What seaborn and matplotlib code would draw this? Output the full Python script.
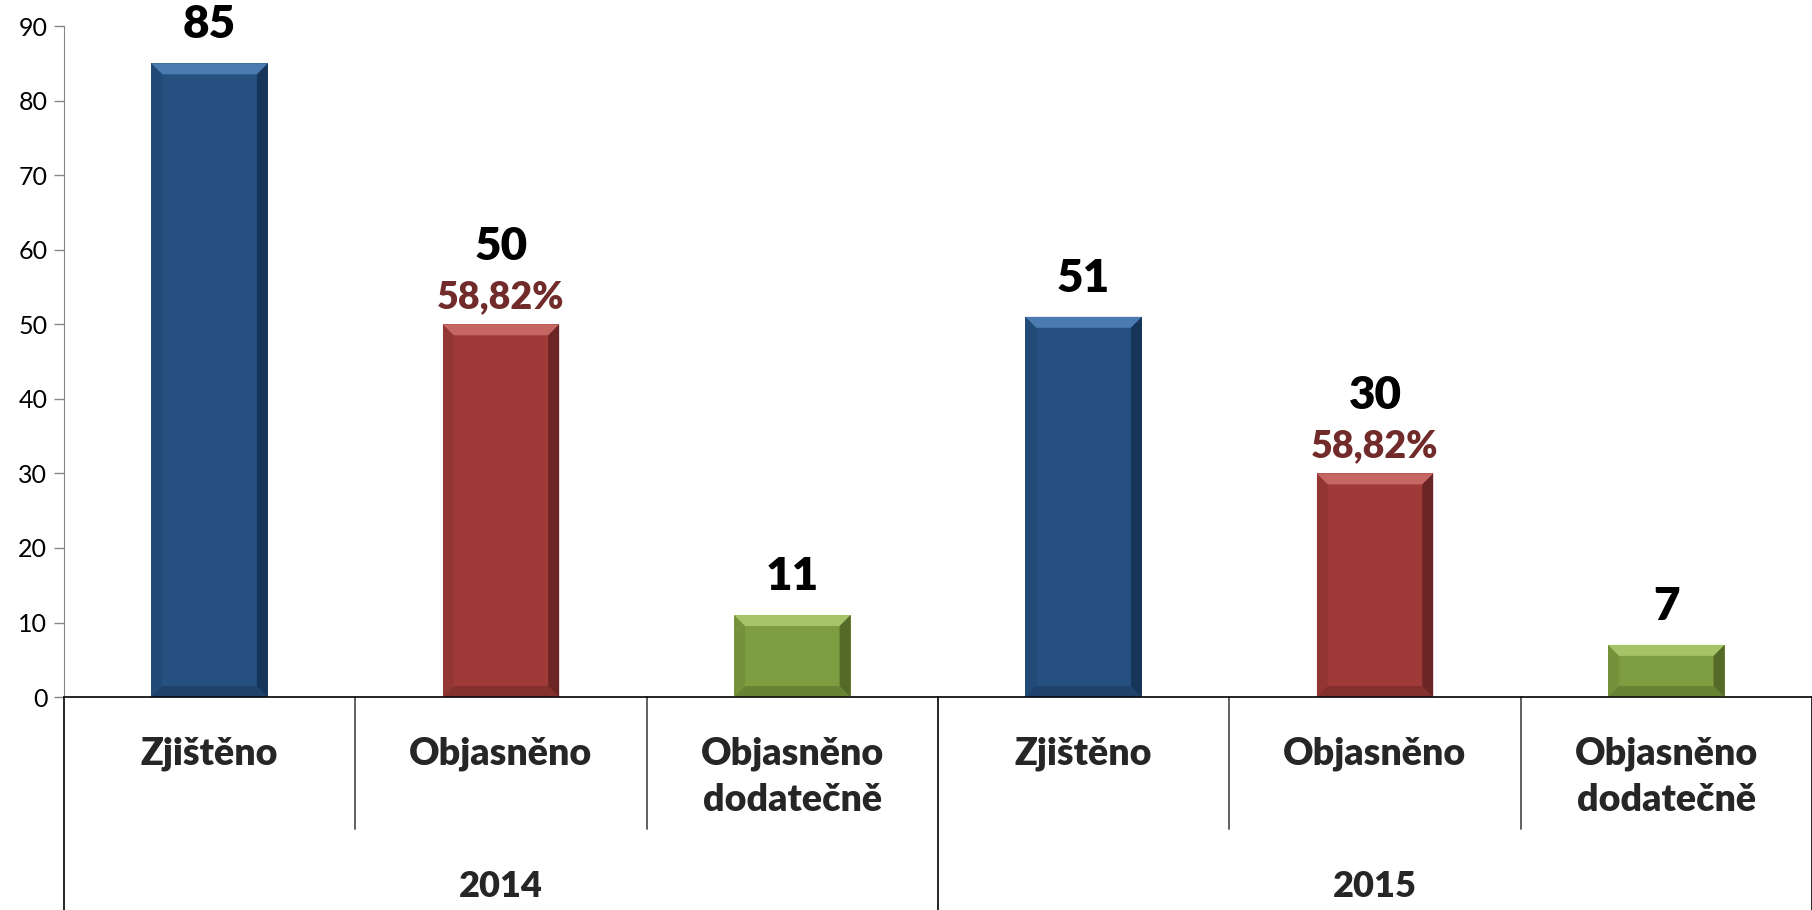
import pandas as pd
import numpy as np
import matplotlib
matplotlib.use("Agg")
import matplotlib.pyplot as plt
import seaborn as sns
from matplotlib.patches import Polygon

# data
years = ['2014', '2015']
categories = ['Zjištěno', 'Objasněno', 'Objasněno\ndodatečně']
values_2014 = [85, 50, 11]
values_2015 = [51, 30, 7]
percent_2014 = ['', '58,82%', '']
percent_2015 = ['', '58,82%', '']

colors = {'Zjištěno': '#25507F', 'Objasněno': '#9E3B38', 'Objasněno\ndodatečně': '#7E9C40'}
light = {'Zjištěno': '#5483BA', 'Objasněno': '#CF706C', 'Objasněno\ndodatečně': '#AECB6E'}
dark = {'Zjištěno': '#0E2340', 'Objasněno': '#4A1717', 'Objasněno\ndodatečně': '#3A4A1A'}

rows = []
for year, vals, pcts in [(years[0], values_2014, percent_2014), (years[1], values_2015, percent_2015)]:
    for cat, v, p in zip(categories, vals, pcts):
        rows.append({'slot': year + ' ' + cat, 'year': year, 'kategorie': cat, 'value': v, 'pct': p})
df = pd.DataFrame(rows)

sns.set_style("white")
plt.rcParams['font.family'] = ['Lato', 'DejaVu Sans']
W = 'heavy'

fig = plt.figure(figsize=(18.12, 9.10), dpi=100)
ax = fig.add_axes([0.0353, 0.234, 0.9647, 0.7374])

sns.barplot(data=df, x='slot', y='value', hue='kategorie', palette=colors,
            dodge=False, width=0.4, legend=False, ax=ax, saturation=1,
            edgecolor='none')

ax.set_ylim(0, 90)
ax.set_xlim(-0.5, len(df) - 0.5)
ax.set_yticks(range(0, 91, 10))
ax.tick_params(axis='y', labelsize=18, labelcolor='black', length=7, width=1,
               color='#868686', direction='out', left=True, pad=5)
ax.set_xticks([])
ax.set_xlabel('')
ax.set_ylabel('')
for s in ['top', 'right']:
    ax.spines[s].set_visible(False)
ax.spines['left'].set_color('#868686')
ax.spines['bottom'].set_color('black')
ax.spines['bottom'].set_linewidth(1.2)

# bevel effect on bars
fig.canvas.draw()
inv = ax.transData.inverted()
bev = 11
for patch in list(ax.patches):
    if patch.get_height() <= 0:
        continue
    x0, y0 = patch.get_x(), patch.get_y()
    x1, y1 = x0 + patch.get_width(), y0 + patch.get_height()
    idx = int(round(x0 + patch.get_width() / 2))
    cat = df.loc[idx, 'kategorie']
    (px0, py0) = ax.transData.transform((x0, y0))
    (px1, py1) = ax.transData.transform((x1, y1))
    b = min(bev, (py1 - py0) / 3)
    top = [(px0, py1), (px1, py1), (px1 - b, py1 - b), (px0 + b, py1 - b)]
    right = [(px1, py1), (px1, py0), (px1 - b, py0 + b), (px1 - b, py1 - b)]
    bottom = [(px0, py0), (px1, py0), (px1 - b, py0 + b), (px0 + b, py0 + b)]
    left = [(px0, py0), (px0, py1), (px0 + b, py1 - b), (px0 + b, py0 + b)]
    for pts, c, a in [(top, light[cat], 0.85), (right, dark[cat], 0.6),
                      (bottom, dark[cat], 0.3), (left, dark[cat], 0.12)]:
        ax.add_patch(Polygon(inv.transform(pts), closed=True, facecolor=c,
                             edgecolor='none', alpha=a, zorder=3))

# value labels
for i, row in df.iterrows():
    if row['pct']:
        ax.annotate(row['pct'], (i, row['value']), xytext=(0, 16), textcoords='offset pixels',
                    ha='center', va='baseline', fontsize=27, fontweight=W, color='#722B2B')
        off = 64
    else:
        off = 25
    ax.annotate(str(row['value']), (i, row['value']), xytext=(0, off), textcoords='offset pixels',
                ha='center', va='baseline', fontsize=33, fontweight=W, color='black')

# multi-level category axis
xt = ax.get_xaxis_transform()
n = len(df)
for k in range(n + 1):
    xb = k - 0.5
    if k % 3 == 0:
        ax.plot([xb, xb], [0, -0.32], transform=xt, color='black', lw=1.2, clip_on=False)
    else:
        ax.plot([xb, xb], [0, -0.197], transform=xt, color='#444444', lw=1.2, clip_on=False)
for i, row in df.iterrows():
    for li, line in enumerate(row['kategorie'].split('\n')):
        ax.text(i, -0.101 - li * 0.0686, line, transform=xt, ha='center', va='baseline',
                fontsize=27, fontweight=W)
for g, year in enumerate(years):
    ax.text(g * 3 + 1, -0.298, year, transform=xt, ha='center', va='baseline',
            fontsize=26, fontweight=W)

fig.savefig('out.png', dpi=100)
